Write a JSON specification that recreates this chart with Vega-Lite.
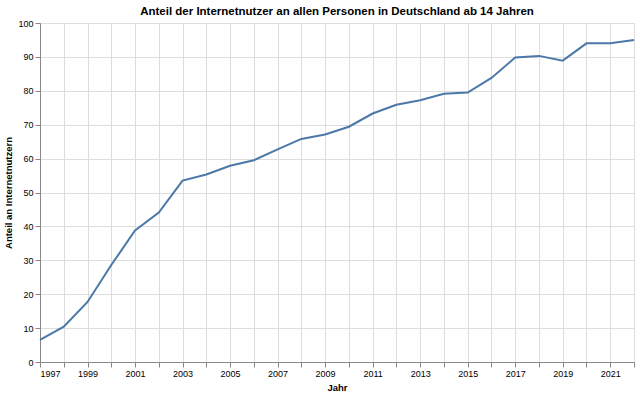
{
  "$schema": "https://vega.github.io/schema/vega-lite/v6.json",
  "width": 640,
  "height": 395,
  "autosize": {"type": "fit", "contains": "padding"},
  "padding": {"left": 3, "right": 2, "top": 5, "bottom": 3},
  "title": {"text": "Anteil der Internetnutzer an allen Personen in Deutschland ab 14 Jahren", "offset": 2, "fontSize": 11.5},
  "config": {"axis": {"titleFontSize": 9.5, "labelFontSize": 9}},
  "data": {"values": [
    {"Jahr": 1997, "Anteil": 6.5},
    {"Jahr": 1998, "Anteil": 10.4},
    {"Jahr": 1999, "Anteil": 17.7},
    {"Jahr": 2000, "Anteil": 28.6},
    {"Jahr": 2001, "Anteil": 38.8},
    {"Jahr": 2002, "Anteil": 44.1},
    {"Jahr": 2003, "Anteil": 53.5},
    {"Jahr": 2004, "Anteil": 55.3},
    {"Jahr": 2005, "Anteil": 57.9},
    {"Jahr": 2006, "Anteil": 59.5},
    {"Jahr": 2007, "Anteil": 62.7},
    {"Jahr": 2008, "Anteil": 65.8},
    {"Jahr": 2009, "Anteil": 67.1},
    {"Jahr": 2010, "Anteil": 69.4},
    {"Jahr": 2011, "Anteil": 73.3},
    {"Jahr": 2012, "Anteil": 75.9},
    {"Jahr": 2013, "Anteil": 77.2},
    {"Jahr": 2014, "Anteil": 79.1},
    {"Jahr": 2015, "Anteil": 79.5},
    {"Jahr": 2016, "Anteil": 83.8},
    {"Jahr": 2017, "Anteil": 89.8},
    {"Jahr": 2018, "Anteil": 90.3},
    {"Jahr": 2019, "Anteil": 88.9},
    {"Jahr": 2020, "Anteil": 94.0},
    {"Jahr": 2021, "Anteil": 94.0},
    {"Jahr": 2022, "Anteil": 95.0}
  ]},
  "mark": {"type": "line"},
  "encoding": {
    "x": {
      "field": "Jahr", "type": "quantitative", "title": "Jahr",
      "scale": {"domain": [1997, 2022], "nice": false, "zero": false},
      "axis": {
        "values": [1997,1998,1999,2000,2001,2002,2003,2004,2005,2006,2007,2008,2009,2010,2011,2012,2013,2014,2015,2016,2017,2018,2019,2020,2021,2022],
        "format": "d",
        "labelExpr": "datum.value % 2 == 1 ? datum.label : ''",
        "labelOverlap": false,
        "titlePadding": 4
      }
    },
    "y": {
      "field": "Anteil", "type": "quantitative", "title": "Anteil an Internetnutzern",
      "scale": {"domain": [0, 100]}
    }
  }
}
